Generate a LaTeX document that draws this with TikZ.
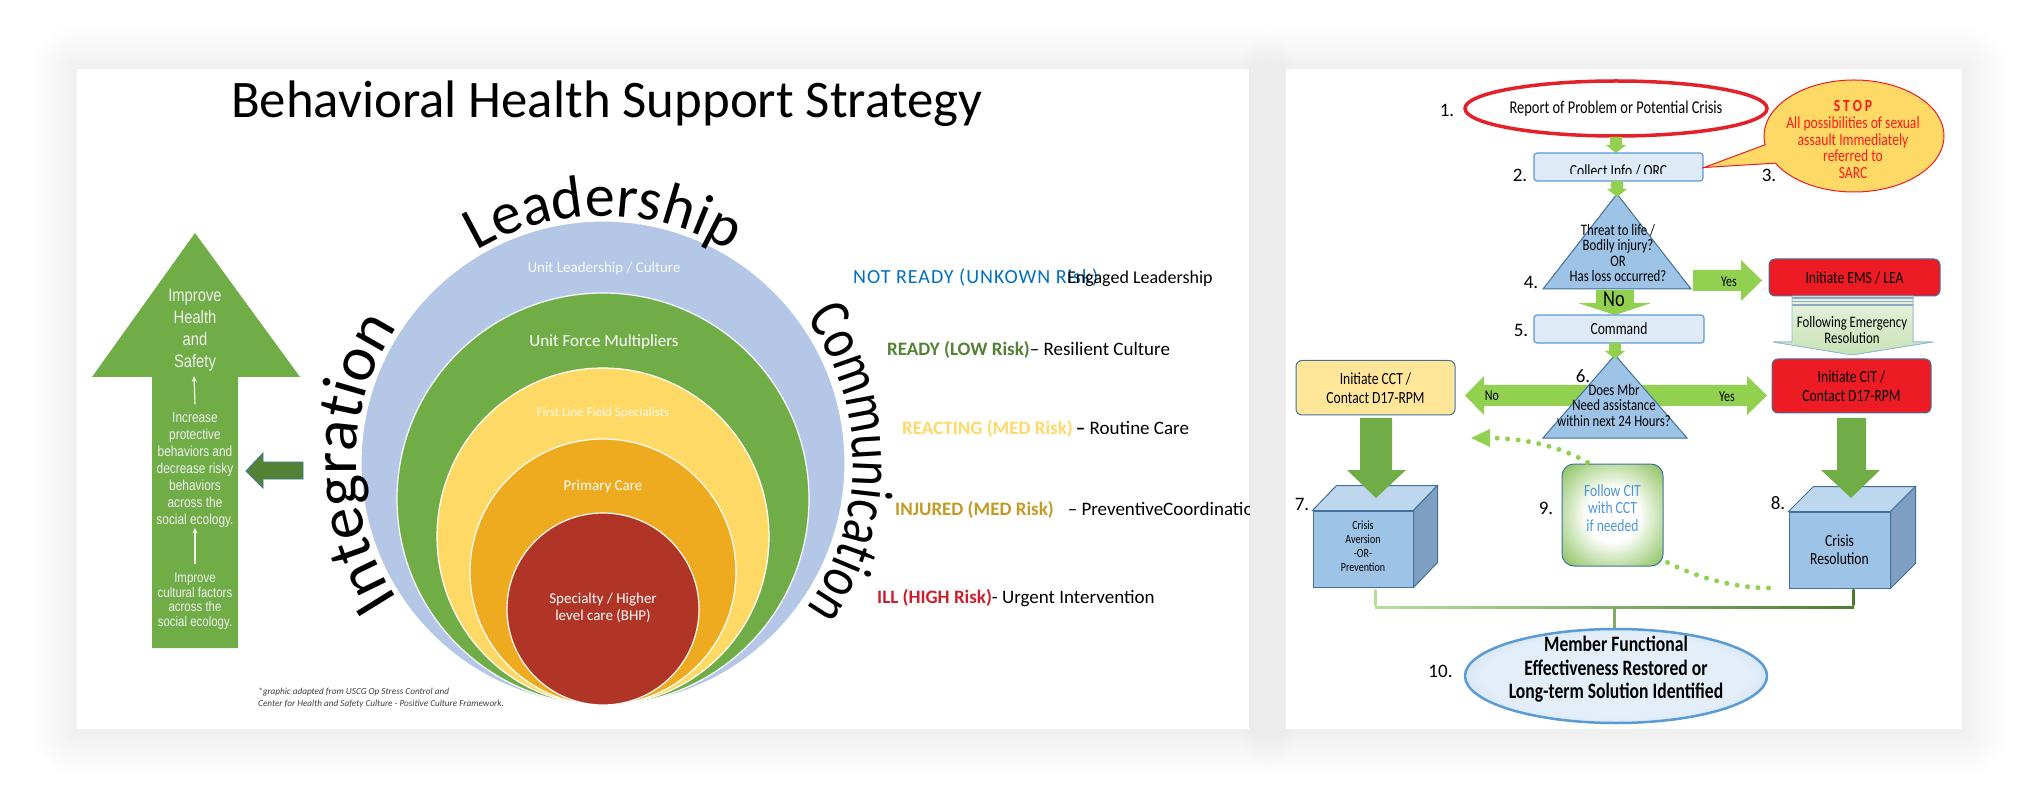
\documentclass[tikz,border=0pt]{standalone}
\usepackage{fontspec}
\setmainfont{Carlito}
\newfontfamily\carlc[FakeStretch=0.8]{Carlito}
\newfontfamily\ariac[FakeStretch=0.82]{Liberation Sans}
\newfontfamily\carlsp[LetterSpace=5]{Carlito}
\usetikzlibrary{decorations.text,arrows.meta,shapes.geometric,calc}
\newcommand\fs[2]{\fontsize{#1}{#2}\selectfont}
\definecolor{cblue}{HTML}{B4C7E7}
\definecolor{cgreen}{HTML}{70AD47}
\definecolor{cyellow}{HTML}{FFD966}
\definecolor{corange}{HTML}{EFAB20}
\definecolor{cred}{HTML}{B13526}
\definecolor{dgreen}{HTML}{548235}
\definecolor{lgreen}{HTML}{92D050}
\definecolor{boxblue}{HTML}{DEEBF7}
\definecolor{mblue}{HTML}{5B9BD5}
\definecolor{edgeblue}{HTML}{41719C}
\definecolor{triblue}{HTML}{9DC3E6}
\definecolor{boxred}{HTML}{ED1C24}
\definecolor{boxyel}{HTML}{FFE699}
\definecolor{notblue}{HTML}{0070C0}
\definecolor{gold}{HTML}{C49A22}
\definecolor{illred}{HTML}{CC1F2E}
\definecolor{stopred}{HTML}{FF1A1A}
\definecolor{ovalred}{HTML}{E42129}
\definecolor{fgreen}{HTML}{7DBB4A}
\definecolor{fblue}{HTML}{4E95D9}
\definecolor{goalin}{HTML}{E3EEF9}
\definecolor{goalout}{HTML}{A9CBEB}
\definecolor{cubetopc}{HTML}{BDD7EE}
\definecolor{cubesidec}{HTML}{7F9FC2}
\definecolor{follt}{HTML}{E8F3DF}
\definecolor{follb}{HTML}{C8E2B5}
\definecolor{follline}{HTML}{8EA9C1}
\definecolor{brl}{HTML}{B5DC98}
\definecolor{brd}{HTML}{4E7A2E}
\pgfdeclareradialshading{followshade}{\pgfpoint{0bp}{0bp}}{color(0bp)=(white); color(13bp)=(white); color(37bp)=(fgreen); color(50bp)=(fgreen)}
\pgfdeclareradialshading{goalshade}{\pgfpoint{0bp}{0bp}}{color(0bp)=(goalin); color(22bp)=(goalin); color(40bp)=(goalout); color(50bp)=(goalout)}
\tikzset{
  ringnode/.style={circle, draw=white, line width=1.2pt, inner sep=0pt},
  ringlab/.style={text=white, inner sep=0pt},
  legtext/.style={anchor=base west, inner sep=0pt, font=\fs{19}{22}},
  lbox/.style={draw=mblue, line width=1.2pt, fill=boxblue, rounded corners=3pt, inner sep=0pt},
  rbox/.style={draw=edgeblue, line width=1pt, rounded corners=6pt, inner sep=0pt, align=center, font=\carlc\fs{17}{19}},
  num/.style={font=\fs{19}{20}, inner sep=0pt},
  trishape/.style={draw=edgeblue, line width=1pt, fill=triblue},
  tritext/.style={font=\carlc\fs{16}{15.3}, align=center, inner sep=0pt},
  cubefront/.style={draw=edgeblue, line width=1pt, fill=triblue, inner sep=0pt},
  cubetop/.style={draw=edgeblue, line width=1pt, fill=cubetopc},
  cubeside/.style={draw=edgeblue, line width=1pt, fill=cubesidec},
  dotline/.style={draw=lgreen, line width=5pt, line cap=round, dash pattern=on 0pt off 10.5pt},
  arrtext/.style={font=\ariac\fs{14.5}{17}, text=white!94!black, align=center, inner sep=0pt},
  bigword/.style={decorate, decoration={text along path, text align=center, text={#1}}},
}
\begin{document}
\begin{tikzpicture}[x=1pt,y=-1pt]
\useasboundingbox (0,0) rectangle (2043,799);
\fill[white] (0,0) rectangle (2043,799);
% panel shadows
\foreach \i in {1,...,15} {
  \pgfmathsetmacro\rr{3*\i}
  \fill[black, opacity=0.0045, rounded corners=\rr pt] (77-\rr,69-\rr+2) rectangle (1249+\rr,729+\rr+2);
  \fill[black, opacity=0.0045, rounded corners=\rr pt] (1286-\rr,69-\rr+2) rectangle (1962+\rr,729+\rr+2);
}
\fill[white] (77,69) rectangle (1249,729);
\fill[white] (1286,69) rectangle (1962,729);

% ================= LEFT PANEL =================
\node[anchor=base west, font=\fs{52.8}{60}, inner sep=0pt] (title) at (231,118) {Behavioral Health Support Strategy};

% nested circles
\node[ringnode, fill=cblue, minimum size=484pt] (r1) at (603,463) {};
\node[ringnode, fill=cgreen, minimum size=412pt] (r2) at (603,499) {};
\node[ringnode, ellipse, fill=cyellow, minimum width=332pt, minimum height=337pt] (r3) at (603,536.5) {};
\node[ringnode, fill=corange, minimum size=266pt] (r4) at (603,572) {};
\node[ringnode, fill=cred, minimum size=192pt] (r5) at (603,609) {};

\node[ringlab, font=\fs{15}{18}, text opacity=0.9] (l1) at (604,269) {Unit Leadership / Culture};
\node[ringlab, font=\fs{17}{20}] (l2) at (604,342) {Unit Force Multipliers};
\node[ringlab, font=\fs{13}{16}, text opacity=0.85] (l3) at (603,413) {First Line Field Specialists};
\node[ringlab, font=\fs{15}{18}] (l4) at (603,487) {Primary Care};
\node[ringlab, font=\fs{15}{17}, align=center] (l5) at (603,608) {Specialty / Higher\\level care (BHP)};

% curved words
\begin{scope}[shift={(603,463)}, y=1pt]
  \path[bigword={|\fontsize{60}{60}\selectfont|Leadership}] (124:247) arc[start angle=124, end angle=56, radius=247];
  \path[bigword={|\fontsize{64}{64}\selectfont|Integration}] (218:247) arc[start angle=218, end angle=142, radius=247];
  \path[bigword={|\carlc\fontsize{60}{60}\selectfont|Communication}] (38:250) arc[start angle=38, end angle=-38, radius=250];
\end{scope}

% big up arrow
\fill[cgreen] (195,233) -- (300,377) -- (238,377) -- (238,648) -- (152,648) -- (152,377) -- (92,377) -- cycle;
\node[arrtext, font=\ariac\fs{18}{21.8}] (a1) at (195,330) {Improve\\Health\\and\\Safety};
\node[arrtext, font=\ariac\fs{14.5}{17}] (a2) at (195,470) {Increase\\protective\\behaviors and\\decrease risky\\behaviors\\across the\\social ecology.};
\node[arrtext, font=\ariac\fs{14}{14.7}] (a3) at (195,601) {Improve\\cultural factors\\across the\\social ecology.};
\draw[white!94!black, line width=1.2pt, -{Stealth[length=6pt,width=5pt]}] (a2.north) ++(0,-8) -- (194,376);
\draw[white!94!black, line width=1.2pt, -{Stealth[length=6pt,width=5pt]}] (a3.north) ++(0,-8) -- (a2.south);
% small dark arrow
\filldraw[fill=dgreen, draw=edgeblue, line width=0.8pt] (246,471) -- (263,453) -- (263,462) -- (303,462) -- (303,479) -- (263,479) -- (263,488) -- cycle;

% legend
\begin{scope}
\clip (77,69) rectangle (1249,729);
\node[legtext, text=notblue, font=\carlsp\fs{20}{22}] (g0) at (853,284) {NOT READY (UNKOWN Risk)};
\node[legtext, font=\fs{18}{22}] (g0b) at (1067,284) {Engaged Leadership};
\node[legtext] (g1) at (887,355.5) {\textcolor{dgreen}{\bfseries READY (LOW Risk)}– Resilient Culture};
\node[legtext] (g2) at (902,434.5) {\textcolor{cyellow}{\bfseries REACTING (MED Risk)}\,\textbf{–} Routine Care};
\node[legtext] (g3) at (895,515.5) {\textcolor{gold}{\bfseries INJURED (MED Risk)}\hspace{14pt}– PreventiveCoordination};
\node[legtext] (g4) at (877,603.5) {\textcolor{illred}{\bfseries ILL (HIGH Risk)}- Urgent Intervention};
\end{scope}

\node[anchor=base west, font=\itshape\fs{9.2}{11.5}, text=black!75, align=left, inner sep=0pt] (foot) at (258,706) {*graphic adapted from USCG Op Stress Control and\\Center for Health and Safety Culture - Positive Culture Framework.};

% ================= RIGHT PANEL =================
% 1
\node[ellipse, draw=ovalred, line width=3.5pt, fill=white, minimum width=302pt, minimum height=55pt, inner sep=0pt, font=\carlc\fs{18}{20}] (n1) at (1616,108.5) {Report of Problem or Potential Crisis};
% arrow 1->2
\fill[lgreen] (1610,137) -- (1622,137) -- (1622,145) -- (1626,145) -- (1616,153) -- (1606,145) -- (1610,145) -- cycle;
% 2
\node[lbox, minimum width=169pt, minimum height=28pt] (n2) at (1618.5,167) {};
\begin{scope}
\clip (n2.north west) rectangle ($(n2.east)+(0,7)$);
\node[font=\carlc\fs{17}{19}, inner sep=0pt] (n2t) at (1618.5,171) {Collect Info / ORC};
\end{scope}
% 3 callout
\begin{scope}[shift={(1854,136)}, y=1pt]
\filldraw[fill=cyellow, draw=boxred, line width=1pt] (209:90 and 56) -- (-150,-31.5) -- (189:90 and 56) arc[start angle=189, end angle=-151, x radius=90, y radius=56] -- cycle;
\end{scope}
\node[font=\carlc\fs{17}{16.9}, text=stopred, align=center, inner sep=0pt] (stop) at (1853,139.5) {\textbf{S\,T\,O\,P}\\All possibilities of sexual\\assault Immediately\\referred to\\SARC};
% 4 triangle
\coordinate (t1a) at (1617,194);
\coordinate (t1l) at (1543,289);
\coordinate (t1r) at (1691,289);
\filldraw[trishape] (t1a) -- (t1r) -- (t1l) -- cycle;
\fill[lgreen] (1611,181) -- (1623,181) -- (1623,189) -- (1627,189) -- (1617,197) -- (1607,189) -- (1611,189) -- cycle;
\node[tritext] (t1t) at (1618,253) {Threat to life /\\Bodily injury?\\OR\\Has loss occurred?};
% Yes arrow
\fill[lgreen] (1693,270) -- (1741,270) -- (1741,260) -- (1762,280.5) -- (1741,301) -- (1741,291) -- (1693,291) -- cycle;
\node[font=\carlc\fs{15}{17}, inner sep=0pt] (yes1) at (1729,282) {Yes};
% No arrow
\fill[lgreen] (1596,290) -- (1634,290) -- (1634,303) -- (1651,303) -- (1615,315) -- (1578,303) -- (1596,303) -- cycle;
\node[font=\carlc\fs{23}{24}, inner sep=0pt] (no1) at (1614,299) {No};
% EMS box
\node[rbox, fill=boxred, minimum width=171pt, minimum height=37pt] (ems) at (1854.5,277.5) {Initiate EMS / LEA};
% following arrow
\filldraw[top color=follt, bottom color=follb, draw=mblue!70, line width=0.8pt] (1792,296) -- (1913,296) -- (1913,342) -- (1933,342) -- (1852,355) -- (1773,342) -- (1792,342) -- cycle;
\foreach \yy in {298,301.5,305} { \draw[follline, line width=1.3pt] (1792,\yy) -- (1913,\yy); }
\node[font=\carlc\fs{16}{15.5}, align=center, inner sep=0pt] (folt) at (1852,330) {Following Emergency\\Resolution};
% 5
\node[lbox, minimum width=170pt, minimum height=28pt, font=\carlc\fs{17}{19}] (n5) at (1619,329) {Command};
% double arrow
\fill[lgreen] (1465,395.5) -- (1484,376) -- (1484,385) -- (1747,385) -- (1747,376) -- (1767,395.5) -- (1747,415) -- (1747,406) -- (1484,406) -- (1484,415) -- cycle;
\node[font=\carlc\fs{15}{17}, inner sep=0pt] (no2) at (1492,396) {No};
\node[font=\carlc\fs{15}{17}, inner sep=0pt] (yes2) at (1727,397) {Yes};
% 6 triangle
\coordinate (t2a) at (1615,355);
\coordinate (t2l) at (1543,438);
\coordinate (t2r) at (1687,438);
\filldraw[trishape] (t2a) -- (t2r) -- (t2l) -- cycle;
\fill[lgreen] (1609,343) -- (1621,343) -- (1621,351) -- (1625,351) -- (1615,359) -- (1605,351) -- (1609,351) -- cycle;
\node[tritext] (t2t) at (1614,405.5) {Does Mbr\\Need assistance\\within next 24 Hours?};
% CCT / CIT boxes
\node[rbox, fill=boxyel, minimum width=159pt, minimum height=54.5pt] (cct) at (1375.5,387.75) {Initiate CCT /\\Contact D17-RPM};
\node[rbox, fill=boxred, minimum width=159pt, minimum height=54pt] (cit) at (1851.5,386) {Initiate CIT /\\Contact D17-RPM};
% cubes
\node[cubefront, minimum width=100pt, minimum height=76pt] (c7) at (1363,549) {};
\filldraw[cubetop] (c7.north west) -- ++(24,-25) -- ($(c7.north east)+(24,-25)$) -- (c7.north east) -- cycle;
\filldraw[cubeside] (c7.north east) -- ++(24,-25) -- ($(c7.south east)+(24,-25)$) -- (c7.south east) -- cycle;
\node[font=\carlc\fs{12.5}{14}, align=center, inner sep=0pt] (c7t) at (1363,546.5) {Crisis\\Aversion\\-OR-\\Prevention};
\node[cubefront, minimum width=101pt, minimum height=76pt] (c8) at (1839.5,550) {};
\filldraw[cubetop] (c8.north west) -- ++(25,-25) -- ($(c8.north east)+(25,-25)$) -- (c8.north east) -- cycle;
\filldraw[cubeside] (c8.north east) -- ++(25,-25) -- ($(c8.south east)+(25,-25)$) -- (c8.south east) -- cycle;
\node[font=\carlc\fs{17}{17.5}, align=center, inner sep=0pt] (c8t) at (1839.5,549.5) {Crisis\\Resolution};
% big down arrows
\fill[cgreen] (1360,418) -- (1392,418) -- (1392,470) -- (1406,470) -- (1376,498) -- (1347,470) -- (1360,470) -- cycle;
\fill[cgreen] (1837,418) -- (1866,418) -- (1866,470) -- (1880,470) -- (1851,498) -- (1821,470) -- (1837,470) -- cycle;
% 9 follow box
\node[draw=edgeblue, line width=1pt, rounded corners=12pt, shade, shading=followshade, minimum width=101pt, minimum height=102pt, inner sep=0pt] (f9) at (1612.5,515) {};
\node[font=\carlc\fs{17}{17.2}, text=fblue, align=center, inner sep=0pt] (f9t) at (1612.5,508) {Follow CIT\\with CCT\\if needed};
\coordinate (dA) at (1489,438);
\coordinate (dB) at (1775,588);
\draw[dotline] ($(f9.north)+(-25,-1)$) .. controls (1560,446) and (1522,438) .. (dA);
\fill[lgreen] (1471,438) -- (1490,429) -- (1490,447) -- cycle;
\draw[dotline] ($(f9.south east)+(4,-4)$) .. controls (1700,579) and (1740,589) .. (dB);
% bracket
\draw[line width=3pt, brl, line cap=round] ($(c7.south)+(12,3)$) -- (1375,605);
\foreach \i in {0,...,19} {
  \pgfmathsetmacro\pc{100-5*\i}
  \pgfmathsetmacro\xa{1375+\i*23.94}
  \pgfmathsetmacro\xb{\xa+24.6}
  \draw[line width=3pt, color=brl!\pc!brd] (\xa,607) -- (\xb,607);
}
\draw[line width=3pt, brd, line cap=round] (1853.7,590) -- (1853.7,605);
\draw[line width=3pt, brl!50!brd] (1614,607) -- (1614,630);
% 10
\node[ellipse, draw=mblue, line width=2.5pt, shade, shading=goalshade, minimum width=302pt, minimum height=94pt, inner sep=0pt] (n10) at (1616,676) {};
\node[font=\carlc\bfseries\fs{22}{23.5}, align=center, inner sep=0pt] (n10t) at (1616,669.5) {Member Functional\\Effectiveness Restored or\\Long-term Solution Identified};
% numbers
\node[num] (k1) at (1447,110) {1.};
\node[num] (k2) at (1520,175) {2.};
\node[num] (k3) at (1769,175) {3.};
\node[num] (k4) at (1531,282) {4.};
\node[num] (k5) at (1521,330) {5.};
\node[num] (k6) at (1583,376.5) {6.};
\node[num] (k7) at (1302,504.5) {7.};
\node[num] (k8) at (1778,503) {8.};
\node[num] (k9) at (1546,508) {9.};
\node[num] (k10) at (1440.5,671.5) {10.};
\end{tikzpicture}
\end{document}
